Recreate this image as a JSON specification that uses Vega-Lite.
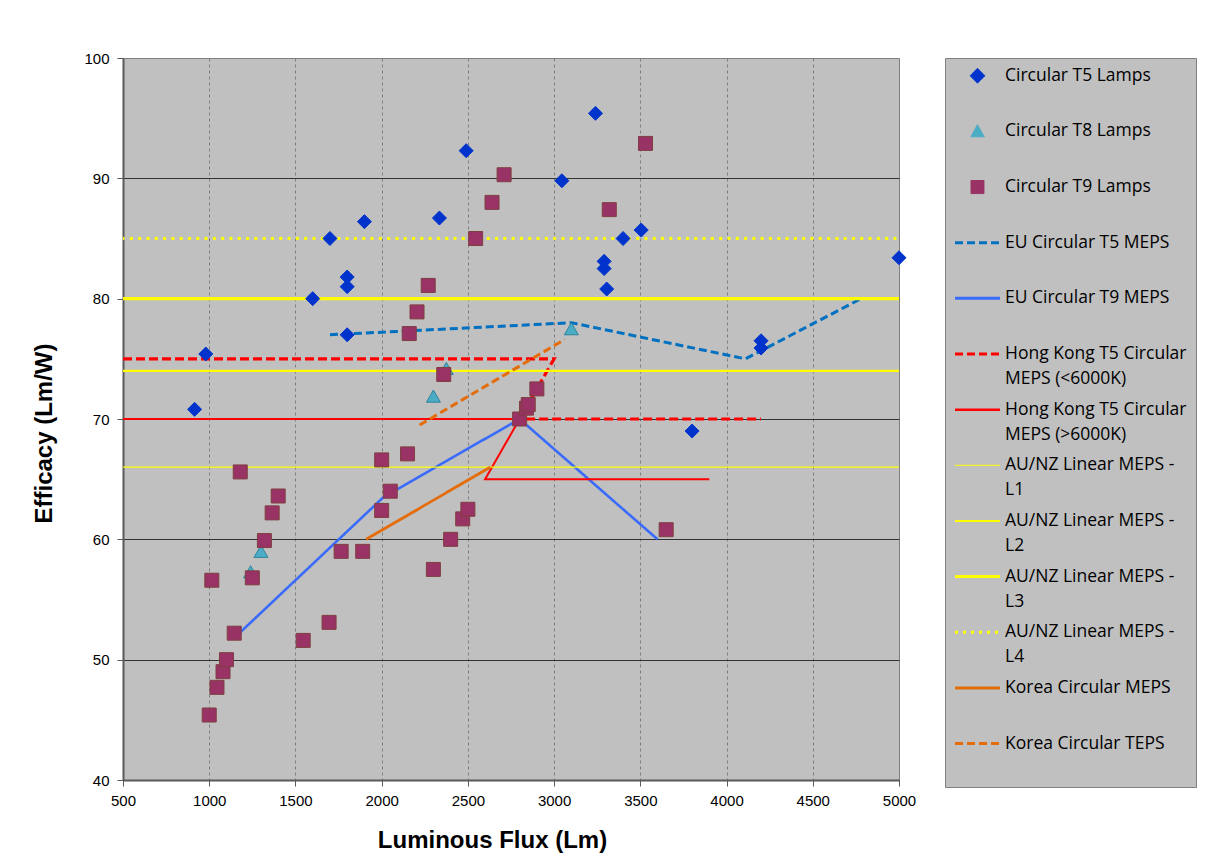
{
  "$schema": "https://vega.github.io/schema/vega-lite/v6.json",
  "width": 776,
  "height": 722,
  "autosize": {"type": "none"},
  "padding": {"left": 123, "top": 58, "right": 309, "bottom": 81},
  "background": "white",
  "config": {
    "view": {"fill": "#C0C0C0", "stroke": "#808080", "strokeWidth": 1},
    "axis": {
      "labelFont": "Liberation Sans",
      "labelFontSize": 15,
      "labelColor": "#000000",
      "labelFlush": false,
      "titleFont": "Liberation Sans",
      "titleFontSize": 24,
      "titleFontWeight": "bold",
      "titleColor": "#000000",
      "tickColor": "#595959",
      "tickSize": 6,
      "domainColor": "#595959",
      "domainWidth": 2
    }
  },
  "datasets": {
    "lamps": [
      {"series": "Circular T5 Lamps", "flux": 915, "efficacy": 70.8},
      {"series": "Circular T5 Lamps", "flux": 980, "efficacy": 75.4},
      {"series": "Circular T5 Lamps", "flux": 1600, "efficacy": 80.0},
      {"series": "Circular T5 Lamps", "flux": 1700, "efficacy": 85.0},
      {"series": "Circular T5 Lamps", "flux": 1800, "efficacy": 81.8},
      {"series": "Circular T5 Lamps", "flux": 1800, "efficacy": 81.0},
      {"series": "Circular T5 Lamps", "flux": 1800, "efficacy": 77.0},
      {"series": "Circular T5 Lamps", "flux": 1900, "efficacy": 86.4},
      {"series": "Circular T5 Lamps", "flux": 2335, "efficacy": 86.7},
      {"series": "Circular T5 Lamps", "flux": 2490, "efficacy": 92.3},
      {"series": "Circular T5 Lamps", "flux": 3045, "efficacy": 89.8},
      {"series": "Circular T5 Lamps", "flux": 3240, "efficacy": 95.4},
      {"series": "Circular T5 Lamps", "flux": 3290, "efficacy": 83.1},
      {"series": "Circular T5 Lamps", "flux": 3290, "efficacy": 82.5},
      {"series": "Circular T5 Lamps", "flux": 3305, "efficacy": 80.8},
      {"series": "Circular T5 Lamps", "flux": 3400, "efficacy": 85.0},
      {"series": "Circular T5 Lamps", "flux": 3505, "efficacy": 85.7},
      {"series": "Circular T5 Lamps", "flux": 3800, "efficacy": 69.0},
      {"series": "Circular T5 Lamps", "flux": 4200, "efficacy": 76.5},
      {"series": "Circular T5 Lamps", "flux": 4200, "efficacy": 75.9},
      {"series": "Circular T5 Lamps", "flux": 5000, "efficacy": 83.4},
      {"series": "Circular T8 Lamps", "flux": 1240, "efficacy": 57.3},
      {"series": "Circular T8 Lamps", "flux": 1300, "efficacy": 59.0},
      {"series": "Circular T8 Lamps", "flux": 2300, "efficacy": 71.9},
      {"series": "Circular T8 Lamps", "flux": 2375, "efficacy": 74.2},
      {"series": "Circular T8 Lamps", "flux": 3100, "efficacy": 77.5},
      {"series": "Circular T9 Lamps", "flux": 1000, "efficacy": 45.4},
      {"series": "Circular T9 Lamps", "flux": 1045, "efficacy": 47.7},
      {"series": "Circular T9 Lamps", "flux": 1080, "efficacy": 49.0},
      {"series": "Circular T9 Lamps", "flux": 1100, "efficacy": 50.0},
      {"series": "Circular T9 Lamps", "flux": 1145, "efficacy": 52.2},
      {"series": "Circular T9 Lamps", "flux": 1015, "efficacy": 56.6},
      {"series": "Circular T9 Lamps", "flux": 1180, "efficacy": 65.6},
      {"series": "Circular T9 Lamps", "flux": 1250, "efficacy": 56.8},
      {"series": "Circular T9 Lamps", "flux": 1320, "efficacy": 59.9},
      {"series": "Circular T9 Lamps", "flux": 1365, "efficacy": 62.2},
      {"series": "Circular T9 Lamps", "flux": 1400, "efficacy": 63.6},
      {"series": "Circular T9 Lamps", "flux": 1545, "efficacy": 51.6},
      {"series": "Circular T9 Lamps", "flux": 1695, "efficacy": 53.1},
      {"series": "Circular T9 Lamps", "flux": 1765, "efficacy": 59.0},
      {"series": "Circular T9 Lamps", "flux": 1890, "efficacy": 59.0},
      {"series": "Circular T9 Lamps", "flux": 2000, "efficacy": 62.4},
      {"series": "Circular T9 Lamps", "flux": 2000, "efficacy": 66.6},
      {"series": "Circular T9 Lamps", "flux": 2050, "efficacy": 64.0},
      {"series": "Circular T9 Lamps", "flux": 2150, "efficacy": 67.1},
      {"series": "Circular T9 Lamps", "flux": 2160, "efficacy": 77.1},
      {"series": "Circular T9 Lamps", "flux": 2205, "efficacy": 78.9},
      {"series": "Circular T9 Lamps", "flux": 2270, "efficacy": 81.1},
      {"series": "Circular T9 Lamps", "flux": 2300, "efficacy": 57.5},
      {"series": "Circular T9 Lamps", "flux": 2360, "efficacy": 73.7},
      {"series": "Circular T9 Lamps", "flux": 2400, "efficacy": 60.0},
      {"series": "Circular T9 Lamps", "flux": 2470, "efficacy": 61.7},
      {"series": "Circular T9 Lamps", "flux": 2500, "efficacy": 62.5},
      {"series": "Circular T9 Lamps", "flux": 2545, "efficacy": 85.0},
      {"series": "Circular T9 Lamps", "flux": 2640, "efficacy": 88.0},
      {"series": "Circular T9 Lamps", "flux": 2710, "efficacy": 90.3},
      {"series": "Circular T9 Lamps", "flux": 2800, "efficacy": 70.0},
      {"series": "Circular T9 Lamps", "flux": 2840, "efficacy": 70.9},
      {"series": "Circular T9 Lamps", "flux": 2850, "efficacy": 71.2},
      {"series": "Circular T9 Lamps", "flux": 2900, "efficacy": 72.5},
      {"series": "Circular T9 Lamps", "flux": 3320, "efficacy": 87.4},
      {"series": "Circular T9 Lamps", "flux": 3530, "efficacy": 92.9},
      {"series": "Circular T9 Lamps", "flux": 3650, "efficacy": 60.8}
    ],
    "limits": [
      {"series": "EU Circular T5 MEPS", "i": 1, "flux": 1700, "efficacy": 77.0},
      {"series": "EU Circular T5 MEPS", "i": 2, "flux": 3100, "efficacy": 78.0},
      {"series": "EU Circular T5 MEPS", "i": 3, "flux": 4110, "efficacy": 75.0},
      {"series": "EU Circular T5 MEPS", "i": 4, "flux": 4780, "efficacy": 80.0},
      {"series": "EU Circular T9 MEPS", "i": 1, "flux": 1160, "efficacy": 52.0},
      {"series": "EU Circular T9 MEPS", "i": 2, "flux": 2010, "efficacy": 63.5},
      {"series": "EU Circular T9 MEPS", "i": 3, "flux": 2800, "efficacy": 70.0},
      {"series": "EU Circular T9 MEPS", "i": 4, "flux": 3600, "efficacy": 60.0},
      {"series": "Hong Kong T5 Circular MEPS (<6000K)", "i": 1, "flux": 500, "efficacy": 75.0},
      {"series": "Hong Kong T5 Circular MEPS (<6000K)", "i": 2, "flux": 3000, "efficacy": 75.0},
      {"series": "Hong Kong T5 Circular MEPS (<6000K)", "i": 3, "flux": 2800, "efficacy": 70.0},
      {"series": "Hong Kong T5 Circular MEPS (<6000K)", "i": 4, "flux": 4200, "efficacy": 70.0},
      {"series": "Hong Kong T5 Circular MEPS (>6000K)", "i": 1, "flux": 500, "efficacy": 70.0},
      {"series": "Hong Kong T5 Circular MEPS (>6000K)", "i": 2, "flux": 2800, "efficacy": 70.0},
      {"series": "Hong Kong T5 Circular MEPS (>6000K)", "i": 3, "flux": 2600, "efficacy": 65.0},
      {"series": "Hong Kong T5 Circular MEPS (>6000K)", "i": 4, "flux": 3900, "efficacy": 65.0},
      {"series": "AU/NZ Linear MEPS - L1", "i": 1, "flux": 500, "efficacy": 66.0},
      {"series": "AU/NZ Linear MEPS - L1", "i": 2, "flux": 5000, "efficacy": 66.0},
      {"series": "AU/NZ Linear MEPS - L2", "i": 1, "flux": 500, "efficacy": 74.0},
      {"series": "AU/NZ Linear MEPS - L2", "i": 2, "flux": 5000, "efficacy": 74.0},
      {"series": "AU/NZ Linear MEPS - L3", "i": 1, "flux": 500, "efficacy": 80.0},
      {"series": "AU/NZ Linear MEPS - L3", "i": 2, "flux": 5000, "efficacy": 80.0},
      {"series": "AU/NZ Linear MEPS - L4", "i": 1, "flux": 500, "efficacy": 85.0},
      {"series": "AU/NZ Linear MEPS - L4", "i": 2, "flux": 5000, "efficacy": 85.0},
      {"series": "Korea Circular MEPS", "i": 1, "flux": 1910, "efficacy": 60.0},
      {"series": "Korea Circular MEPS", "i": 2, "flux": 2630, "efficacy": 66.0},
      {"series": "Korea Circular TEPS", "i": 1, "flux": 2220, "efficacy": 69.5},
      {"series": "Korea Circular TEPS", "i": 2, "flux": 3060, "efficacy": 76.6}
    ]
  },
  "encoding": {
    "x": {
      "field": "flux",
      "type": "quantitative",
      "scale": {"domain": [500, 5000], "nice": false, "zero": false},
      "axis": {
        "title": "Luminous Flux (Lm)",
        "values": [500, 1000, 1500, 2000, 2500, 3000, 3500, 4000, 4500, 5000],
        "format": "d",
        "labelPadding": 7,
        "titlePadding": 20,
        "titleX": 369,
        "grid": true,
        "gridColor": "#7F7F7F",
        "gridDash": [3, 3],
        "gridWidth": 1,
        "gridOpacity": {"condition": {"test": "datum.value == 500 || datum.value == 5000", "value": 0}, "value": 1}
      }
    },
    "y": {
      "field": "efficacy",
      "type": "quantitative",
      "scale": {"domain": [40, 100], "nice": false, "zero": false},
      "axis": {
        "title": "Efficacy (Lm/W)",
        "values": [40, 50, 60, 70, 80, 90, 100],
        "labelPadding": 8,
        "titlePadding": 27,
        "titleY": 375,
        "grid": true,
        "gridColor": {"condition": {"test": "datum.value == 100", "value": "#808080"}, "value": "#333333"},
        "gridWidth": 1
      }
    }
  },
  "layer": [
    {
      "data": {"name": "limits"},
      "transform": [{"filter": "datum.series != 'AU/NZ Linear MEPS - L4'"}],
      "mark": {"type": "line", "strokeCap": "butt", "strokeJoin": "miter", "clip": true},
      "encoding": {
        "order": {"field": "i", "type": "quantitative"},
        "color": {
          "field": "series",
          "type": "nominal",
          "scale": {
            "domain": ["Circular T5 Lamps", "Circular T8 Lamps", "Circular T9 Lamps", "EU Circular T5 MEPS", "EU Circular T9 MEPS", "Hong Kong T5 Circular MEPS (<6000K)", "Hong Kong T5 Circular MEPS (>6000K)", "AU/NZ Linear MEPS - L1", "AU/NZ Linear MEPS - L2", "AU/NZ Linear MEPS - L3", "AU/NZ Linear MEPS - L4", "Korea Circular MEPS", "Korea Circular TEPS"],
            "range": ["#0033CC", "#4BACC6", "#993366", "#0070C0", "#3A6BFA", "#FF0000", "#FF0000", "#FFFF00", "#FFFF00", "#FFFF00", "#FFFF00", "#E46C0A", "#E46C0A"]
          },
          "legend": {
            "title": null,
            "orient": "right",
            "offset": 46,
            "padding": 9,
            "fillColor": "#C0C0C0",
            "strokeColor": "#808080",
            "labelFont": "Open Sans",
            "labelFontSize": 17.5,
            "labelColor": "#000000",
            "labelLimit": 400,
            "labelOffset": 18.75,
            "symbolSize": 2025,
            "symbolOffset": 14.75,
            "symbolStrokeWidth": 2,
            "rowPadding": 11.65,
            "gridAlign": "all",
            "labelExpr": "datum.label == 'Hong Kong T5 Circular MEPS (<6000K)' ? ['Hong Kong T5 Circular', 'MEPS (<6000K)'] : datum.label == 'Hong Kong T5 Circular MEPS (>6000K)' ? ['Hong Kong T5 Circular', 'MEPS (>6000K)'] : indexof(datum.label, 'AU/NZ') == 0 ? ['AU/NZ Linear MEPS -', substring(datum.label, 20)] : datum.label == 'Korea Circular TEPS' ? ['Korea Circular TEPS', ' '] : datum.label",
            "encoding": {
              "labels": {"lineHeight": {"value": 25}},
              "symbols": {
                "shape": {"value": {"expr": "datum.value == 'Circular T5 Lamps' ? 'M0,-0.33L0.33,0L0,0.33L-0.33,0Z' : datum.value == 'Circular T8 Lamps' ? 'M0,-0.3L0.3,0.24L-0.3,0.24Z' : datum.value == 'Circular T9 Lamps' ? 'M-0.29,-0.29H0.29V0.29H-0.29Z' : 'M-1,0H1'"}},
                "fill": {"value": {"expr": "indexof(['Circular T5 Lamps','Circular T8 Lamps','Circular T9 Lamps'], datum.value) >= 0 ? scale('color', datum.value) : 'transparent'"}},
                "stroke": {"value": {"expr": "datum.value == 'Circular T5 Lamps' ? 'transparent' : datum.value == 'Circular T8 Lamps' ? '#31849B' : datum.value == 'Circular T9 Lamps' ? '#7F3F3F' : scale('color', datum.value)"}},
                "strokeWidth": {"value": {"expr": "datum.value == 'AU/NZ Linear MEPS - L1' ? 1 : datum.value == 'AU/NZ Linear MEPS - L2' ? 2 : indexof(['EU Circular T5 MEPS','EU Circular T9 MEPS','Hong Kong T5 Circular MEPS (<6000K)','AU/NZ Linear MEPS - L3','AU/NZ Linear MEPS - L4','Korea Circular MEPS','Korea Circular TEPS'], datum.value) >= 0 ? 3 : datum.value == 'Hong Kong T5 Circular MEPS (>6000K)' ? 2.5 : 1"}},
                "strokeDash": {"value": {"expr": "indexof(['EU Circular T5 MEPS','Hong Kong T5 Circular MEPS (<6000K)','Korea Circular TEPS'], datum.value) >= 0 ? [8, 4] : datum.value == 'AU/NZ Linear MEPS - L4' ? [3, 5] : [1, 0]"}}
              }
            }
          }
        },
        "strokeDash": {
          "field": "series",
          "type": "nominal",
          "scale": {
            "domain": ["EU Circular T5 MEPS", "EU Circular T9 MEPS", "Hong Kong T5 Circular MEPS (<6000K)", "Hong Kong T5 Circular MEPS (>6000K)", "AU/NZ Linear MEPS - L1", "AU/NZ Linear MEPS - L2", "AU/NZ Linear MEPS - L3", "Korea Circular MEPS", "Korea Circular TEPS"],
            "range": [[8, 4], [1, 0], [9, 4], [1, 0], [1, 0], [1, 0], [1, 0], [1, 0], [8, 4]]
          },
          "legend": null
        },
        "strokeWidth": {
          "field": "series",
          "type": "nominal",
          "scale": {
            "type": "ordinal",
            "domain": ["EU Circular T5 MEPS", "EU Circular T9 MEPS", "Hong Kong T5 Circular MEPS (<6000K)", "Hong Kong T5 Circular MEPS (>6000K)", "AU/NZ Linear MEPS - L1", "AU/NZ Linear MEPS - L2", "AU/NZ Linear MEPS - L3", "Korea Circular MEPS", "Korea Circular TEPS"],
            "range": [3, 2.6, 3.2, 2, 1.2, 2.3, 3.4, 2.8, 3]
          },
          "legend": null
        }
      }
    },
    {
      "data": {"name": "limits"},
      "transform": [{"filter": "datum.series == 'AU/NZ Linear MEPS - L4'"}],
      "mark": {"type": "line", "color": "#FFFF00", "strokeCap": "round", "strokeWidth": 3.5, "strokeDash": [0.1, 8.2], "clip": true},
      "encoding": {
        "order": {"field": "i", "type": "quantitative"}
      }
    },
    {
      "data": {"name": "lamps"},
      "mark": {"type": "point", "filled": true, "opacity": 1, "size": 196, "strokeWidth": 1},
      "encoding": {
        "color": {
          "field": "series",
          "type": "nominal",
          "scale": {
            "domain": ["Circular T5 Lamps", "Circular T8 Lamps", "Circular T9 Lamps", "EU Circular T5 MEPS", "EU Circular T9 MEPS", "Hong Kong T5 Circular MEPS (<6000K)", "Hong Kong T5 Circular MEPS (>6000K)", "AU/NZ Linear MEPS - L1", "AU/NZ Linear MEPS - L2", "AU/NZ Linear MEPS - L3", "AU/NZ Linear MEPS - L4", "Korea Circular MEPS", "Korea Circular TEPS"],
            "range": ["#0033CC", "#4BACC6", "#993366", "#0070C0", "#3A6BFA", "#FF0000", "#FF0000", "#FFFF00", "#FFFF00", "#FFFF00", "#FFFF00", "#E46C0A", "#E46C0A"]
          },
          "legend": null
        },
        "shape": {
          "field": "series",
          "type": "nominal",
          "scale": {"domain": ["Circular T5 Lamps", "Circular T8 Lamps", "Circular T9 Lamps"], "range": ["diamond", "triangle-up", "square"]},
          "legend": null
        },
        "stroke": {
          "field": "series",
          "type": "nominal",
          "scale": {"domain": ["Circular T5 Lamps", "Circular T8 Lamps", "Circular T9 Lamps"], "range": ["#0033CC", "#31849B", "#7F3F3F"]},
          "legend": null
        }
      }
    }
  ]
}
